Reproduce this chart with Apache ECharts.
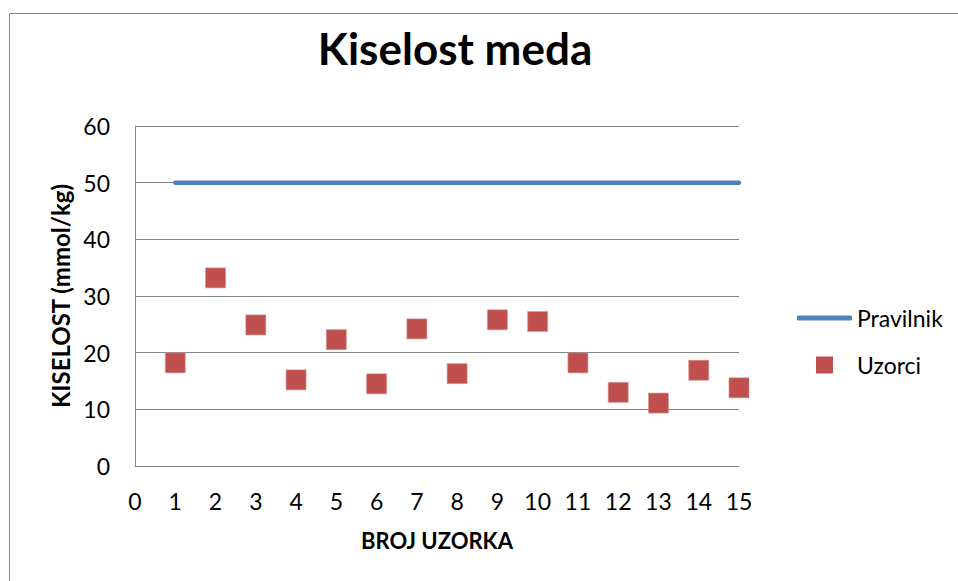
<!DOCTYPE html>
<html>
<head>
<meta charset="utf-8">
<script src="https://cdn.jsdelivr.net/npm/echarts@6/dist/echarts.min.js"></script>
<style>
html,body{margin:0;padding:0;background:#fff;}
#c{width:958px;height:581px;}
</style>
</head>
<body>
<div id="c"></div>
<script>
const sampleNumbers = [1,2,3,4,5,6,7,8,9,10,11,12,13,14,15];
const uzorciValues = [18.2,33.2,24.9,15.2,22.3,14.5,24.2,16.3,25.8,25.5,18.2,13.0,11.1,16.9,13.8];
const pravilnikX = [1,15];
const pravilnikY = [50,50];
const xTicks = {min:0,max:15,interval:1};
const yTicks = {min:0,max:60,interval:10};

const FONT = 'Lato, "Noto Sans", sans-serif';
const chart = echarts.init(document.getElementById('c'), null, {renderer:'svg'});
chart.setOption({
  animation:false,
  backgroundColor:'#fff',
  title:{
    text:'Kiselost meda',
    left:450, top:21, textAlign:'center',
    textStyle:{fontFamily:FONT,fontWeight:'bold',fontSize:44,color:'#000'}
  },
  graphic:[{
    type:'rect', shape:{x:9.5,y:13.5,width:960,height:600},
    style:{fill:'none',stroke:'#868686',lineWidth:1}, silent:true
  }],
  grid:{left:135,right:219,top:126,bottom:115,containLabel:false},
  legend:[{
    data:[{name:'Pravilnik',icon:'roundRect',itemStyle:{color:'#4F81BD',borderWidth:0}}],
    orient:'vertical', left:792, top:301,
    itemWidth:55, itemHeight:5, itemGap:0,
    textStyle:{fontFamily:FONT,fontSize:23,color:'#000',lineHeight:24,padding:[0,0,0,0]}
  },{
    data:[{name:'Uzorci',icon:'rect',itemStyle:{color:'#C0504D',borderWidth:0}}],
    orient:'vertical', left:811, top:348,
    itemWidth:17, itemHeight:17,
    textStyle:{fontFamily:FONT,fontSize:23,color:'#000',lineHeight:24,padding:[0,0,0,19]}
  }],
  xAxis:{
    type:'value', min:xTicks.min, max:xTicks.max, interval:xTicks.interval,
    name:'BROJ UZORKA', nameLocation:'middle', nameGap:63,
    nameTextStyle:{fontFamily:FONT,fontWeight:'bold',fontSize:22,color:'#000'},
    axisLine:{show:true,lineStyle:{color:'#868686',width:1}},
    axisTick:{show:false},
    axisLabel:{fontFamily:FONT,fontSize:23,color:'#000',margin:23},
    splitLine:{show:false}
  },
  yAxis:{
    type:'value', min:yTicks.min, max:yTicks.max, interval:yTicks.interval,
    name:'KISELOST (mmol/kg)', nameLocation:'middle', nameGap:59, nameRotate:90,
    nameTextStyle:{fontFamily:FONT,fontWeight:'bold',fontSize:24,color:'#000'},
    axisLine:{show:true,lineStyle:{color:'#868686',width:1}},
    axisTick:{show:false},
    axisLabel:{fontFamily:FONT,fontSize:23,color:'#000',margin:25},
    splitLine:{show:true,lineStyle:{color:'#868686',width:1}}
  },
  series:[{
    name:'Pravilnik', type:'line',
    data:pravilnikX.map((x,i)=>[x,pravilnikY[i]]),
    showSymbol:false, symbol:'none',
    lineStyle:{color:'#4F81BD',width:4.5,cap:'round'},
    itemStyle:{color:'#4F81BD'}
  },{
    name:'Uzorci', type:'scatter',
    data:sampleNumbers.map((x,i)=>[x,uzorciValues[i]]),
    symbol:'rect', symbolSize:20,
    itemStyle:{color:'#C0504D',opacity:1,borderColor:'#D89090',borderWidth:0.6}
  }]
});
</script>
</body>
</html>
